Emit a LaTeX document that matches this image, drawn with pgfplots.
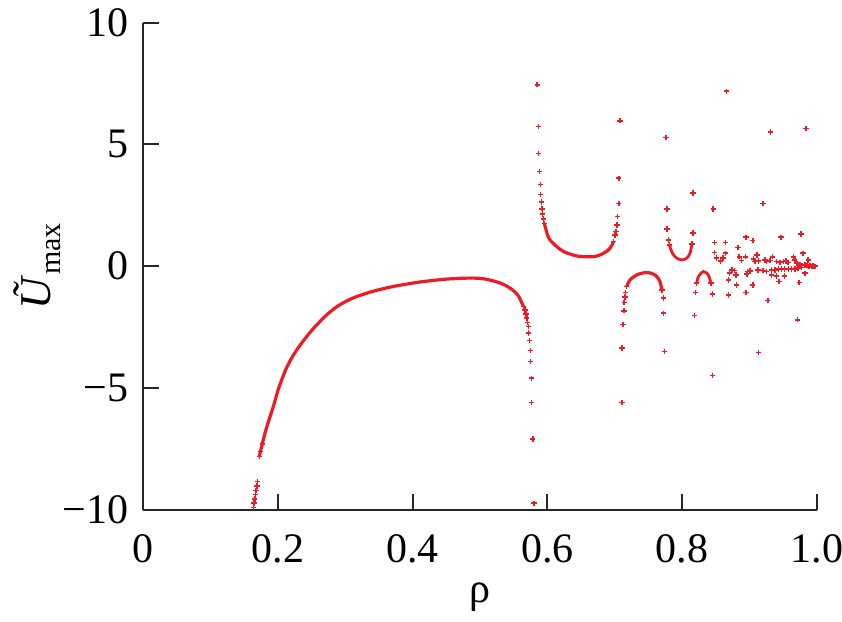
\documentclass[border=0pt]{standalone}
\usepackage{fontspec}
\setmainfont{Liberation Serif}
\usepackage{pgfplots}
\pgfplotsset{compat=1.18}
\definecolor{pred}{RGB}{237,28,36}
\begin{document}
\fontsize{21}{25}\selectfont
\begin{tikzpicture}
\begin{axis}[
  scale only axis, width=337pt, height=243.6pt,
  xmin=0, xmax=1, ymin=-10, ymax=10,
  axis lines*=left,
  axis line style={line width=1pt, black!85},
  tick align=inside, major tick length=8pt,
  every tick/.style={line width=1pt, black!85},
  xtick={0,0.2,0.4,0.6,0.8,1.0}, xticklabels={0,0.2,0.4,0.6,0.8,1.0},
  ytick={-10,-5,0,5,10}, yticklabels={−10,−5,0,5,10},
  ticklabel style={font=\fontsize{21}{25}\selectfont},
  xticklabel style={anchor=base, yshift=-26.5pt},
  xlabel={ρ},
  xlabel style={at={(axis description cs:0.5,0)}, anchor=base, yshift=-46.5pt},
  ylabel={\fontsize{22}{26}\selectfont\textit{Ũ}\raisebox{-0.45ex}{\fontsize{15}{15}\selectfont max}},
  ylabel style={at={(axis description cs:-0.157,0.5)}, anchor=center, rotate=0},
  label style={font=\fontsize{21}{25}\selectfont},
]
% dense parts of the branches drawn as thick lines
\addplot[draw=pred, line width=1.6pt, no marks, smooth] coordinates {
(0.1726,-7.81)(0.177,-7.30)(0.181,-6.85)(0.187,-6.30)(0.1934,-5.76)(0.2008,-5.05)
(0.207,-4.58)(0.213,-4.17)(0.222,-3.70)(0.230,-3.36)(0.238,-3.06)(0.2527,-2.56)
(0.2725,-2.00)(0.290,-1.62)(0.312,-1.30)(0.340,-1.04)(0.3665,-0.86)(0.390,-0.74)
(0.416,-0.63)(0.4506,-0.53)(0.480,-0.49)(0.500,-0.50)(0.515,-0.57)(0.5297,-0.69)
(0.540,-0.82)(0.549,-0.99)(0.555,-1.15)(0.559,-1.32)(0.5643,-1.65)};
\addplot[draw=pred, line width=1.6pt, no marks, smooth] coordinates {
(0.5954,1.76)(0.598,1.49)(0.601,1.21)(0.606,1.01)(0.614,0.80)(0.624,0.60)(0.638,0.46)
(0.648,0.40)(0.660,0.39)(0.668,0.39)(0.676,0.44)(0.683,0.53)(0.689,0.63)(0.693,0.74)
(0.696,0.88)(0.698,1.01)};
\addplot[draw=pred, line width=1.6pt, no marks, smooth] coordinates {
(0.7176,-0.84)(0.7226,-0.56)(0.7325,-0.36)(0.740,-0.29)(0.747,-0.26)(0.754,-0.29)
(0.7596,-0.36)(0.764,-0.48)(0.767,-0.63)(0.770,-0.97)};
\addplot[draw=pred, line width=1.4pt, no marks, smooth] coordinates {
(0.781,0.87)(0.7844,0.60)(0.788,0.43)(0.792,0.33)(0.799,0.26)(0.8067,0.33)(0.8116,0.53)(0.8145,0.92)};
\addplot[draw=pred, line width=1.4pt, no marks, smooth] coordinates {
(0.8215,-0.70)(0.824,-0.43)(0.8313,-0.22)(0.8387,-0.36)(0.8427,-0.70)};
% individual points
\addplot[draw=pred, only marks, mark=+, mark size=1.35pt, mark options={draw=pred, solid, line width=0.8pt}] coordinates {
(0.1637,-9.90)(0.1648,-9.72)(0.1658,-9.55)(0.1668,-9.38)(0.1678,-9.20)(0.1690,-9.02)(0.1700,-8.84)
(0.1726,-7.81)(0.1745,-7.60)(0.177,-7.30)
(0.5643,-1.66)(0.5668,-1.79)(0.5682,-1.97)(0.5693,-2.13)(0.5702,-2.31)(0.5717,-2.48)(0.5717,-2.75)
(0.5732,-3.05)(0.5752,-3.46)(0.5752,-3.91)(0.5767,-4.60)(0.5767,-5.60)(0.5782,-7.09)(0.5801,-9.73)
(0.585,7.45)(0.5866,5.73)(0.5866,4.62)(0.5885,3.88)(0.590,3.36)(0.590,2.95)(0.5915,2.63)(0.592,2.36)
(0.593,2.15)(0.5945,1.94)(0.5954,1.76)
(0.698,1.01)(0.7003,1.28)(0.7018,1.42)(0.703,1.69)(0.7043,2.04)(0.7058,2.58)(0.7058,3.61)(0.7077,5.97)
(0.7107,-5.60)(0.7107,-3.36)(0.7122,-2.40)(0.7136,-1.83)(0.714,-1.49)(0.7151,-1.27)(0.716,-1.08)(0.7176,-0.84)
(0.770,-0.97)(0.7725,-1.31)(0.7725,-1.93)(0.774,-3.50)
(0.776,5.28)(0.7774,2.35)(0.7774,1.52)(0.7794,1.08)(0.781,0.87)
(0.8145,0.92)(0.816,1.37)(0.816,3.00)
(0.818,-2.03)(0.820,-1.08)(0.8215,-0.70)
(0.8427,-0.70)(0.8447,-1.14)(0.8447,-4.49)
(0.846,2.35)(0.8477,0.97)(0.8477,0.57)(0.851,0.33)(0.8566,0.22)(0.8605,0.33)(0.8645,0.53)(0.8645,0.97)
(0.866,7.18)(0.8684,-0.56)(0.870,-0.29)(0.8735,-0.15)(0.8774,-0.18)(0.880,-0.36)(0.8808,-0.77)(0.8684,-1.18)
(0.883,0.76)(0.8847,0.39)(0.888,0.23)(0.8937,0.39)(0.8947,1.19)(0.8947,-1.08)(0.8957,-0.32)(0.897,-0.22)
(0.9006,-0.19)(0.9046,1.05)(0.9046,-0.77)(0.9055,0.29)(0.908,0.19)(0.911,0.46)(0.913,0.22)(0.913,-3.55)
(0.9125,-0.15)(0.920,2.58)(0.920,-0.18)(0.923,0.26)(0.925,0.19)(0.925,-0.22)(0.927,-1.41)(0.930,0.23)
(0.931,5.51)(0.934,0.39)(0.9327,-0.15)(0.9327,-0.36)(0.9377,-0.15)(0.940,0.19)(0.940,-0.40)(0.9426,-0.12)
(0.9436,-0.63)(0.945,0.16)(0.9466,1.19)(0.9475,-0.12)(0.950,0.19)(0.952,-0.11)(0.952,-0.40)(0.954,0.22)
(0.957,0.15)(0.9575,-0.12)(0.9623,-0.11)(0.965,0.39)(0.967,0.26)(0.967,-0.11)(0.970,0.12)(0.9713,-2.20)
(0.972,-0.08)(0.9737,-0.67)(0.975,0.08)(0.9763,1.33)(0.977,-0.05)(0.979,0.53)(0.9822,-0.29)(0.9837,5.65)
(0.982,0.05)(0.985,0.02)(0.987,0.26)(0.988,0.00)(0.990,0.03)(0.992,-0.02)(0.994,0.01)(0.996,-0.01)(0.998,0.00)
};
\end{axis}
\pgfresetboundingbox
\path ([xshift=-71.5pt,yshift=-56pt]current axis.south west) rectangle ([xshift=12.5pt,yshift=11.3pt]current axis.north east);
\end{tikzpicture}
\end{document}
